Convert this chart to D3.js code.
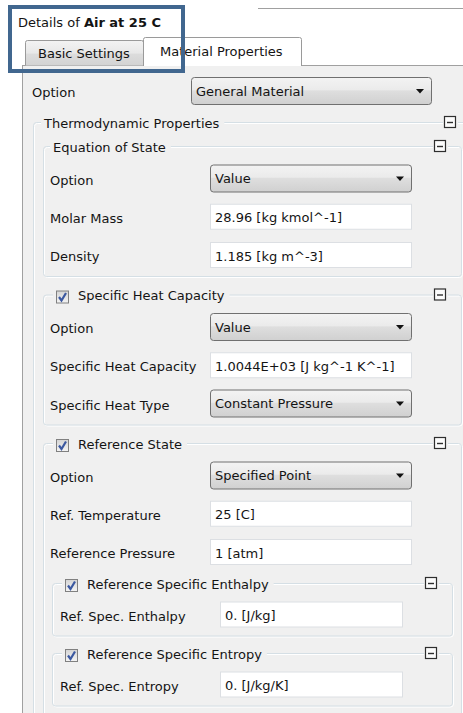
<!DOCTYPE html>
<html><head><meta charset="utf-8">
<script src="https://cdn.jsdelivr.net/npm/d3@7"></script>
<style>
body{margin:0;background:#fff}
svg{display:block}
text{font-family:"DejaVu Sans",Verdana,sans-serif;font-size:13px;fill:#141414}
</style>
</head><body><div id="c"></div><script>
// ---- data ----
const titlePrefix = "Details of ";
const titleName = "Air at 25 C";
const tabLabels = ["Basic Settings", "Material Properties"];
const activeTab = 1;

const rowKinds = ["field","group","group","field","field","field","group","field","field","field","group","field","field","field","group","field","group","field"];
const rowDepth = [0,1,2,2,2,2,2,2,2,2,2,2,2,2,3,3,3,3];
const rowLabels = ["Option","Thermodynamic Properties","Equation of State","Option","Molar Mass","Density",
  "Specific Heat Capacity","Option","Specific Heat Capacity","Specific Heat Type",
  "Reference State","Option","Ref. Temperature","Reference Pressure",
  "Reference Specific Enthalpy","Ref. Spec. Enthalpy","Reference Specific Entropy","Ref. Spec. Entropy"];
const rowValues = ["General Material",null,null,"Value","28.96 [kg kmol^-1]","1.185 [kg m^-3]",
  null,"Value","1.0044E+03 [J kg^-1 K^-1]","Constant Pressure",
  null,"Specified Point","25 [C]","1 [atm]",
  null,"0. [J/kg]",null,"0. [J/kg/K]"];
const rowControls = ["select",null,null,"select","text","text",null,"select","text","select",null,"select","text","text",null,"text",null,"text"];
const rowCheckbox = [false,false,false,false,false,false,true,false,false,false,true,false,false,false,true,false,true,false];

// ---- layout ----
const W = 463, H = 713;
const groupLeft = {1:33, 2:43, 3:52};
const groupRight = {1:473, 2:463, 3:454};
const labelX = {0:32, 2:50, 3:60};
const fieldX = {0:191, 2:210, 3:220};
const fieldR = {0:432, 2:412, 3:403};
const fieldAfterGroup = {2:32.5, 3:31.5};
const groupAfterField = {2:39.5, 3:38.5};

const ys = [];
rowKinds.forEach((k, i) => {
  let y;
  if (i === 0) y = 91;
  else {
    const p = ys[i-1], pk = rowKinds[i-1];
    if (k === "field") y = p + (pk === "field" ? 38.25 : fieldAfterGroup[rowDepth[i]]);
    else if (pk === "group") y = p + 24;
    else if (rowDepth[i-1] === 0) y = p + 31;
    else if (rowDepth[i] > rowDepth[i-1]) y = p + 31;
    else y = p + groupAfterField[rowDepth[i]];
  }
  ys.push(y);
});
const yScale = d3.scaleIdentity().domain([0, H]);

const svg = d3.select("#c").append("svg").attr("width", W).attr("height", H);
const defs = svg.append("defs");
function grad(id, stops){
  const g = defs.append("linearGradient").attr("id", id).attr("x1",0).attr("y1",0).attr("x2",0).attr("y2",1);
  stops.forEach(([o,c]) => g.append("stop").attr("offset", o).attr("stop-color", c));
}
grad("sel", [[0,"#f3f3f3"],[0.45,"#ebebeb"],[0.5,"#dedede"],[1,"#d0d0d0"]]);
grad("tab", [[0,"#f3f3f3"],[0.5,"#e8e8e8"],[0.55,"#dcdcdc"],[1,"#d3d3d3"]]);
grad("chk", [[0,"#d4d4d4"],[1,"#f4f4f4"]]);

svg.append("rect").attr("width", W).attr("height", H).attr("fill", "#fff");

// top separator line
svg.append("line").attr("x1", 258).attr("x2", W).attr("y1", 8.5).attr("y2", 8.5).attr("stroke", "#a0a0a0");

// title
const t = svg.append("text").attr("x", 18).attr("y", 27);
t.append("tspan").text(titlePrefix);
t.append("tspan").attr("font-weight", "bold").text(titleName);

// panel
svg.append("rect").attr("x", 22.5).attr("y", 65.5).attr("width", W).attr("height", H)
  .attr("fill", "#f0f0f0").attr("stroke", "#a0a0a0");

// tabs
const tabX = d3.scaleOrdinal().domain(tabLabels).range([25, 143]);
const tabW = d3.scaleOrdinal().domain(tabLabels).range([118, 158]);
tabLabels.forEach((lab, i) => {
  const x0 = tabX(lab) + 0.5, x1 = tabX(lab) + tabW(lab) + 0.5;
  const active = i === activeTab;
  const top = active ? 37.5 : 40.5, bot = active ? 66 : 65.5;
  svg.append("path")
    .attr("d", `M${x0},${bot} L${x0},${top+2} Q${x0},${top} ${x0+2},${top} L${x1-2},${top} Q${x1},${top} ${x1},${top+2} L${x1},${bot}`)
    .attr("fill", active ? "#fff" : "url(#tab)").attr("stroke", "#9a9a9a");
  svg.append("text").attr("x", tabX(lab) + (active ? 17 : 13)).attr("y", active ? 56 : 58).text(lab);
});

// groups
rowKinds.forEach((k, i) => {
  if (k !== "group") return;
  const d = rowDepth[i];
  let j = i;
  for (let m = i + 1; m < rowKinds.length; m++) {
    if (rowKinds[m] === "group" && rowDepth[m] <= d) break;
    j = m;
  }
  const top = yScale(ys[i]);
  const bottom = ys[j] + 23 + (rowDepth[j] - d) * 10;
  const L = groupLeft[d], R = groupRight[d];
  const g = svg.append("g");
  g.append("rect").attr("x", L + 1.5).attr("y", top + 1.5).attr("width", R - L - 2).attr("height", bottom - top - 2)
    .attr("rx", 3).attr("fill", "none").attr("stroke", "#ffffff");
  g.append("rect").attr("x", L + 0.5).attr("y", top + 0.5).attr("width", R - L - 2).attr("height", bottom - top - 2)
    .attr("rx", 3).attr("fill", "none").attr("stroke", "#d5dfe5");
  const hasChk = rowCheckbox[i];
  const startX = L + (hasChk ? 13 : (d === 1 ? 11 : 10));
  const txtX = hasChk ? startX + 22 : startX;
  const tx = g.append("text").attr("x", txtX).attr("y", top + 5.5).text(rowLabels[i]);
  const tw = tx.node().getComputedTextLength();
  g.insert("rect", "text").attr("x", startX - 3).attr("y", top - 2).attr("width", txtX + tw - startX + 8).attr("height", 5)
    .attr("fill", "#f0f0f0");
  if (hasChk) {
    const cx = startX, cy = top - 4;
    g.append("rect").attr("x", cx + 0.5).attr("y", cy + 0.5).attr("width", 12).attr("height", 12)
      .attr("fill", "url(#chk)").attr("stroke", "#808080");
    g.append("path").attr("d", `M${cx+3},${cy+6.5} L${cx+5.5},${cy+10} L${cx+10},${cy+2.5}`)
      .attr("fill", "none").attr("stroke", "#3b58a0").attr("stroke-width", 2.2);
  }
  // collapse icon
  const ix = R - 29;
  g.append("rect").attr("x", ix - 1).attr("y", top - 7).attr("width", 15).attr("height", 14).attr("fill", "#f0f0f0");
  g.append("rect").attr("x", ix + 0.5).attr("y", top - 5.5).attr("width", 11).attr("height", 11)
    .attr("fill", "#fbfbfb").attr("stroke", "#2e2e2e").attr("stroke-width", 1.2);
  g.append("line").attr("x1", ix + 3).attr("x2", ix + 9).attr("y1", top + 0.5).attr("y2", top + 0.5)
    .attr("stroke", "#2e2e2e").attr("stroke-width", 1.4);
});

// fields
rowKinds.forEach((k, i) => {
  if (k !== "field") return;
  const d = rowDepth[i], cy = yScale(ys[i]);
  const g = svg.append("g");
  g.append("text").attr("x", labelX[d]).attr("y", cy + 6).text(rowLabels[i]);
  const x0 = fieldX[d], x1 = fieldR[d];
  if (rowControls[i] === "select") {
    g.append("rect").attr("x", x0 + 0.5).attr("y", cy - 13.5).attr("width", x1 - x0 - 1).attr("height", 27)
      .attr("rx", 3).attr("fill", "url(#sel)").attr("stroke", "#707070");
    g.append("path").attr("d", `M${x1-16},${cy-2} L${x1-8},${cy-2} L${x1-12},${cy+2.5} Z`).attr("fill", "#111");
    g.append("text").attr("x", x0 + 5).attr("y", cy + 4.5).text(rowValues[i]);
  } else {
    g.append("rect").attr("x", x0 + 0.5).attr("y", cy - 12.5).attr("width", x1 - x0 - 1).attr("height", 25)
      .attr("fill", "#fff").attr("stroke", "#dcdfe3");
    g.append("text").attr("x", x0 + 5).attr("y", cy + 5.5).text(rowValues[i]);
  }
});

// highlight rectangle
svg.append("rect").attr("x", 10).attr("y", 7).attr("width", 173).attr("height", 64)
  .attr("fill", "none").attr("stroke", "#41678f").attr("stroke-width", 4);
</script></body></html>
